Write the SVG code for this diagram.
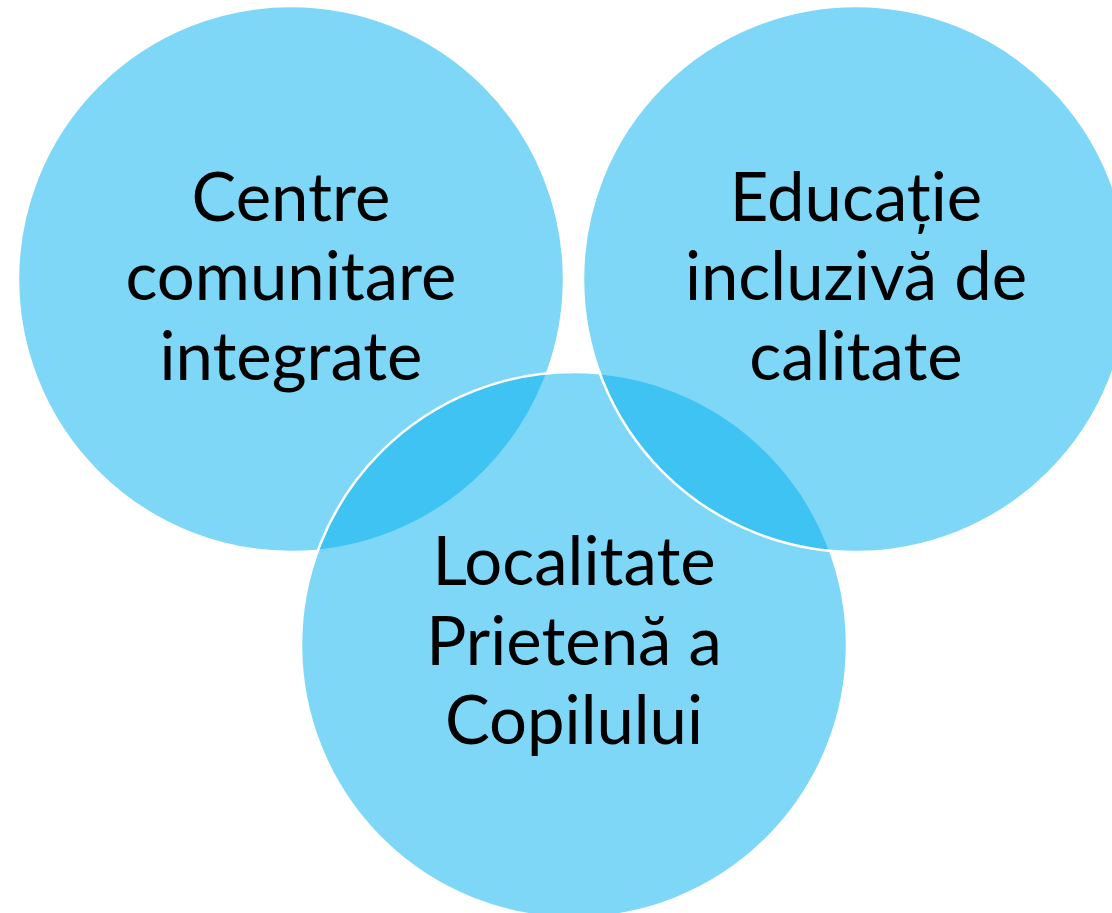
<svg xmlns="http://www.w3.org/2000/svg" width="1112" height="913" viewBox="0 0 1112 913">
  <style>
    .c { fill: #00B0F0; fill-opacity: 0.5; stroke: #FFFFFF; stroke-width: 2.5; }
    .t { font-family: Lato, "Open Sans", "Liberation Sans", sans-serif; font-size: 67px; fill: #000000; text-anchor: middle; }
  </style>
  <rect width="1112" height="913" fill="#FFFFFF"/>
  <g id="node-centre">
    <circle class="c" cx="291" cy="279" r="273"/>
    <text class="t" x="291" y="221">Centre</text>
    <text class="t" x="291" y="300">comunitare</text>
    <text class="t" x="291" y="380">integrate</text>
  </g>
  <g id="node-localitate">
    <circle class="c" cx="574" cy="645" r="273"/>
  </g>
  <g id="node-educatie">
    <circle class="c" cx="856" cy="279" r="273"/>
    <text class="t" x="856" y="221">Educație</text>
    <text class="t" x="856" y="300">incluzivă de</text>
    <text class="t" x="856" y="380">calitate</text>
  </g>
  <g id="node-localitate-text">
    <text class="t" x="574" y="585">Localitate</text>
    <text class="t" x="574" y="665">Prietenă a</text>
    <text class="t" x="574" y="744">Copilului</text>
  </g>
  <g id="connectors"/>
</svg>
